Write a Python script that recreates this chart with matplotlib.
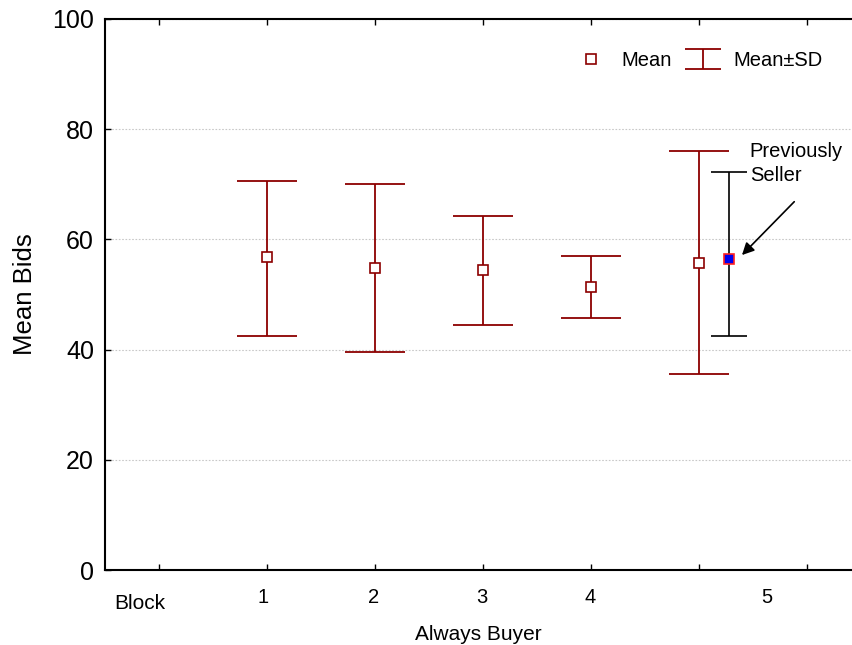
import matplotlib
matplotlib.use("Agg")
import matplotlib.pyplot as plt
from matplotlib.lines import Line2D

plt.rcParams['font.family'] = ['Liberation Sans', 'DejaVu Sans']

# donnees
blocks = ["1", "2", "3", "4", "5"]
xpos = [1.5, 2.5, 3.5, 4.5, 5.5]
means = [56.8, 54.9, 54.4, 51.4, 55.8]
upper = [70.6, 70.1, 64.2, 57.0, 76.0]
lower = [42.5, 39.6, 44.4, 45.7, 35.6]

# previously seller (bloc 5)
ps_x = 5.78
ps_mean = 56.4
ps_upper = 72.2
ps_lower = 42.5

label_pos = [1.46, 2.49, 3.49, 4.49, 6.13]
tick_pos = [0.5, 1.5, 2.5, 3.5, 4.5, 5.5, 6.5]
rouge = "#8c0000"

fig = plt.figure(figsize=(8.52, 6.45), dpi=100)
ax = fig.add_axes([105/852, 75/645, 747/852, 551/645])

err = [[m - l for m, l in zip(means, lower)], [u - m for m, u in zip(means, upper)]]
ax.errorbar(xpos, means, yerr=err, fmt='none', ecolor=rouge, elinewidth=1.3,
            capsize=21.6, capthick=1.3, zorder=3)
ax.plot(xpos, means, 's', ms=6.5, mfc='white', mec=rouge, mew=1.2, zorder=4)

ax.errorbar([ps_x], [ps_mean], yerr=[[ps_mean - ps_lower], [ps_upper - ps_mean]],
            fmt='none', ecolor='black', elinewidth=1.2, capsize=13.3, capthick=1.2, zorder=3)
ax.plot([ps_x], [ps_mean], 's', ms=6.5, mfc='#0000ee', mec='#ff2020', mew=1.2, zorder=4)

ax.annotate("Previously\nSeller", xy=(5.88, 56.8), xytext=(5.97, 77.6),
            fontsize=14.5, va='top', ha='left', zorder=5, linespacing=1.3)
ax.annotate("", xy=(5.88, 56.8), xytext=(6.40, 67.2),
            arrowprops=dict(arrowstyle='-|>', color='black', lw=1.2, mutation_scale=18))

ax.set_xlim(0, 747/108)
ax.set_ylim(0, 100)
ax.set_yticks([0, 20, 40, 60, 80, 100])
ax.tick_params(axis='y', labelsize=18, direction='in', length=4, width=1, pad=8)
ax.set_xticks(tick_pos)
ax.set_xticklabels([])
ax.tick_params(axis='x', which='major', direction='in', length=4, width=1, top=True)
ax.set_xticks(label_pos, minor=True)
ax.set_xticklabels(blocks, minor=True)
ax.tick_params(axis='x', which='minor', length=0, labelsize=14.5, pad=13)
ax.text(0.32/(747/108), -0.044, "Block", transform=ax.transAxes, fontsize=15,
        ha='center', va='top')

ax.yaxis.grid(True, linestyle=(0, (1.5, 1.5)), color='#c8c8c8', lw=0.8)
for s in ['left', 'bottom', 'top']:
    ax.spines[s].set_linewidth(1.5)
ax.spines['right'].set_visible(False)

ax.set_ylabel("Mean Bids", fontsize=18.5, labelpad=11)
ax.set_xlabel("Always Buyer", fontsize=15, labelpad=13)

# poignees de legende (barre factice hors du cadre)
h_mean = Line2D([], [], marker='s', ls='none', ms=6.5, mfc='white', mec=rouge, mew=1.2)
h_sd = ax.errorbar([-5], [50], yerr=[5], fmt='none', ecolor=rouge, elinewidth=1.3,
                   capsize=13.3, capthick=1.3)
ax.legend([h_mean, h_sd], ["Mean", "Mean\u00b1SD"], ncol=2, frameon=False, loc='upper right',
          bbox_to_anchor=(0.985, 0.975), fontsize=14.5, handlelength=2.0, handletextpad=0.5,
          columnspacing=0.55)

fig.savefig("out.png", dpi=100)
